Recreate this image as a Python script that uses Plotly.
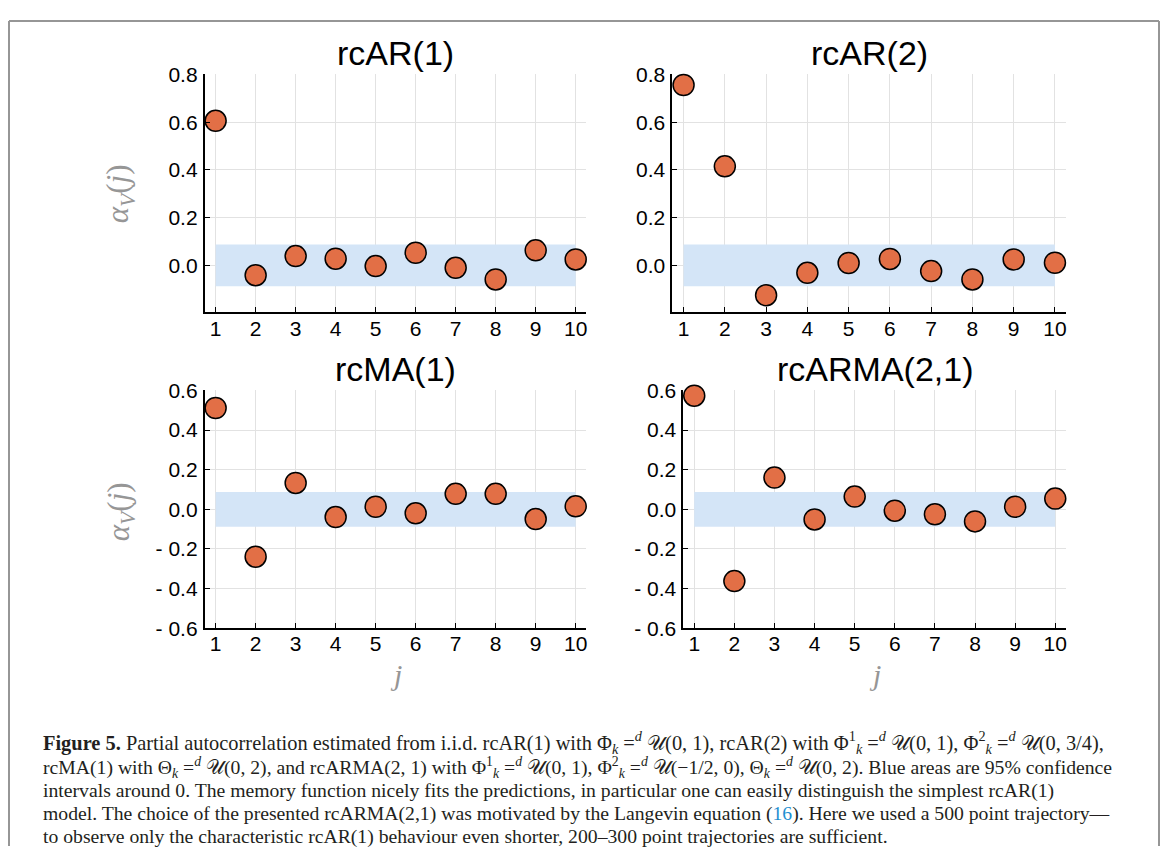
import plotly.graph_objects as go

# window size and the default 8px page margin of the written html
WIN_W, WIN_H = 1171, 867
OX, OY = 8, 8
W, H = WIN_W - 2 * OX - 2, WIN_H - 2 * OY - 2
# measured vertical mapping of the photographed page: shown_y = VS * y + VB
VS, VB = 0.9733, 10.7

lags = [1, 2, 3, 4, 5, 6, 7, 8, 9, 10]
titles = ["rcAR(1)", "rcAR(2)", "rcMA(1)", "rcARMA(2,1)"]
pacf_rcar1 = [0.606, -0.041, 0.039, 0.028, -0.003, 0.053, -0.010, -0.059, 0.063, 0.025]
pacf_rcar2 = [0.756, 0.415, -0.125, -0.031, 0.010, 0.027, -0.024, -0.059, 0.025, 0.011]
pacf_rcma1 = [0.511, -0.239, 0.133, -0.039, 0.013, -0.020, 0.078, 0.078, -0.049, 0.015]
pacf_rcarma21 = [0.573, -0.362, 0.160, -0.051, 0.064, -0.007, -0.025, -0.061, 0.013, 0.054]
ci_half = 0.0877

top_tickvals = [0.0, 0.2, 0.4, 0.6, 0.8]
top_ticktext = ["0.0", "0.2", "0.4", "0.6", "0.8"]
bot_tickvals = [-0.6, -0.4, -0.2, 0.0, 0.2, 0.4, 0.6]
bot_ticktext = ["- 0.6", "- 0.4", "- 0.2", "0.0", "0.2", "0.4", "0.6"]

EQD = "=<sup><i>d</i></sup>"
caption_lines = [
    f"<b>Figure 5.</b> Partial autocorrelation estimated from i.i.d. rcAR(1) with Φ<sub><i>k</i></sub> {EQD} 𝒰(0, 1), rcAR(2) with Φ<sup>1</sup><sub><i>k</i></sub> {EQD} 𝒰(0, 1), Φ<sup>2</sup><sub><i>k</i></sub> {EQD} 𝒰(0, 3/4),",
    f"rcMA(1) with Θ<sub><i>k</i></sub> {EQD} 𝒰(0, 2), and rcARMA(2, 1) with Φ<sup>1</sup><sub><i>k</i></sub> {EQD} 𝒰(0, 1), Φ<sup>2</sup><sub><i>k</i></sub> {EQD} 𝒰(−1/2, 0), Θ<sub><i>k</i></sub> {EQD} 𝒰(0, 2). Blue areas are 95% confidence",
    "intervals around 0. The memory function nicely fits the predictions, in particular one can easily distinguish the simplest rcAR(1)",
    "model. The choice of the presented rcARMA(2,1) was motivated by the Langevin equation (<span style='color:#1f8fd0'>16</span>). Here we used a 500 point trajectory—",
    "to observe only the characteristic rcAR(1) behaviour even shorter, 200–300 point trajectories are sufficient.",
]
caption_sizes = [20.4, 19.7, 19.7, 19.7, 19.7]


def px(X):
    return (X - OX) / W


def py(Y):
    Yset = (Y - VB) / VS
    return 1 - (Yset - OY) / H


# panel pixel boxes as seen in the reference (left, right, top, bottom)
boxes = [(205, 587, 73, 311), (673, 1067, 73, 311), (205, 587, 389, 627), (684, 1067, 389, 627)]
title_y = [51, 51, 368, 368]
ytitle_y = [192, 192, 510, 510]
yranges = [[-0.197, 0.8], [-0.197, 0.8], [-0.6, 0.6], [-0.6, 0.6]]
series = [pacf_rcar1, pacf_rcar2, pacf_rcma1, pacf_rcarma21]

MARKER = "#E26F46"
BAND = "rgb(212,229,247)"
GRID = "rgb(226,226,226)"
FRAME = "rgb(150,150,150)"
TICKFONT = dict(family="Liberation Sans", size=21, color="black")

fig = go.Figure()
layout = dict(width=W, height=H, margin=dict(l=0, r=0, t=0, b=0),
              paper_bgcolor="white", plot_bgcolor="white", showlegend=False)
annotations = []
shapes = []

for i in range(4):
    l, r, t, b = boxes[i]
    xa = "xaxis" if i == 0 else f"xaxis{i+1}"
    ya = "yaxis" if i == 0 else f"yaxis{i+1}"
    xr = "x" if i == 0 else f"x{i+1}"
    yr = "y" if i == 0 else f"y{i+1}"
    top = i < 2
    layout[xa] = dict(domain=[px(l), px(r)], anchor=yr, range=[0.73, 10.27],
                      tickvals=lags, ticktext=[str(v) for v in lags],
                      showgrid=True, gridcolor=GRID, gridwidth=1, zeroline=False,
                      showline=True, linecolor="black", linewidth=2,
                      ticks="inside", ticklen=5, tickwidth=1.2, tickcolor="black",
                      tickfont=TICKFONT, ticklabelstandoff=-4, fixedrange=True)
    layout[ya] = dict(domain=[py(b), py(t)], anchor=xr, range=yranges[i],
                      tickvals=top_tickvals if top else bot_tickvals,
                      ticktext=top_ticktext if top else bot_ticktext,
                      showgrid=True, gridcolor=GRID, gridwidth=1, zeroline=False,
                      showline=True, linecolor="black", linewidth=2,
                      ticks="inside", ticklen=5, tickwidth=1.2, tickcolor="black",
                      tickfont=TICKFONT, ticklabelstandoff=1, fixedrange=True)
    fig.add_trace(go.Scatter(x=lags, y=[-ci_half] * len(lags), mode="lines",
                             line=dict(width=0, color=BAND), xaxis=xr, yaxis=yr,
                             hoverinfo="skip"))
    fig.add_trace(go.Scatter(x=lags, y=[ci_half] * len(lags), mode="lines",
                             line=dict(width=0, color=BAND), fill="tonexty",
                             fillcolor=BAND, xaxis=xr, yaxis=yr, hoverinfo="skip"))
    fig.add_trace(go.Scatter(x=lags, y=series[i], mode="markers",
                             marker=dict(size=21, color=MARKER,
                                         line=dict(color="black", width=1.5)),
                             xaxis=xr, yaxis=yr, cliponaxis=False))
    annotations.append(dict(text=titles[i], xref="paper", yref="paper",
                            x=px((l + r) / 2), y=py(title_y[i]),
                            xanchor="center", yanchor="middle", showarrow=False,
                            font=dict(family="Liberation Sans", size=34, color="black")))
    if i % 2 == 0:
        annotations.append(dict(text="<i>α</i><sub><i>V</i></sub>(<i>j</i>)",
                                xref="paper", yref="paper", x=px(121),
                                y=py(ytitle_y[i]), xanchor="center", yanchor="middle",
                                textangle=-90, showarrow=False,
                                font=dict(family="Liberation Serif", size=31,
                                          color="rgb(150,150,150)")))
    if not top:
        annotations.append(dict(text="<i>j</i>", xref="paper", yref="paper",
                                x=px((l + r) / 2), y=py(673),
                                xanchor="center", yanchor="middle", showarrow=False,
                                font=dict(family="Liberation Serif", size=30,
                                          color="rgb(150,150,150)")))

line_y = [741, 766, 789, 812, 835]
for txt, yy, fs in zip(caption_lines, line_y, caption_sizes):
    annotations.append(dict(text=txt, xref="paper", yref="paper", x=px(41), y=py(yy),
                            xanchor="left", yanchor="middle", showarrow=False, align="left",
                            font=dict(family="Liberation Serif", size=fs, color="#231f20")))

# page frame (left, top, right), kept inside the figure
fx0, fx1, fy1 = 1 / W, 1 - 1 / W, 1 - 1 / H
for (x0, y0, x1, y1) in [(fx0, 0, fx0, fy1), (fx0, fy1, fx1, fy1), (fx1, 0, fx1, fy1)]:
    shapes.append(dict(type="line", xref="paper", yref="paper", x0=x0, y0=y0, x1=x1, y1=y1,
                       line=dict(color=FRAME, width=2), layer="below"))

layout["annotations"] = annotations
layout["shapes"] = shapes
fig.update_layout(**layout)

fig.write_html("out.html", config={"displayModeBar": False})
